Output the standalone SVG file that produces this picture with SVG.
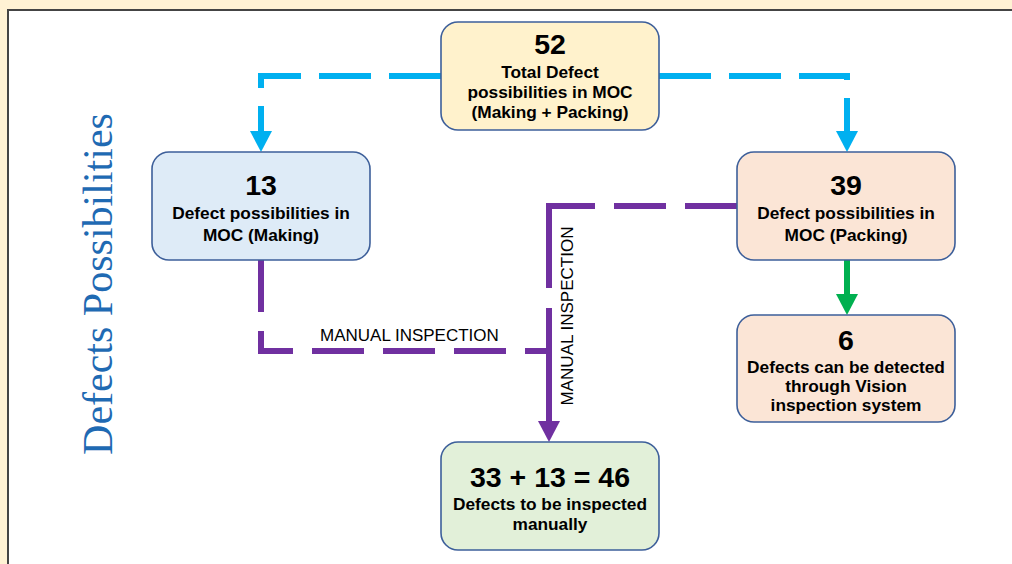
<svg xmlns="http://www.w3.org/2000/svg" width="1012" height="564" viewBox="0 0 1012 564">
<defs>
<style>
.node{stroke:#3D5F9A;stroke-width:1.6}
.num{font-family:"Liberation Sans",Arial,sans-serif;font-weight:bold;font-size:28.5px;fill:#000;text-anchor:middle}
.sub{font-family:"Liberation Sans",Arial,sans-serif;font-weight:bold;font-size:17.3px;fill:#000;text-anchor:middle}
.lbl{font-family:"Liberation Sans",Arial,sans-serif;font-size:17px;fill:#000}
.blue{fill:none;stroke:#00B0F0;stroke-width:6;stroke-dasharray:52 18}
.purple{fill:none;stroke:#7030A0;stroke-width:6;stroke-dasharray:52 19}
.green{fill:none;stroke:#00B050;stroke-width:6}
</style>
<marker id="ab" markerUnits="userSpaceOnUse" markerWidth="22" markerHeight="22" refX="0" refY="11" orient="auto"><path d="M0,0 L21,11 L0,22 z" fill="#00B0F0"/></marker>
<marker id="ap" markerUnits="userSpaceOnUse" markerWidth="22" markerHeight="22" refX="0" refY="11" orient="auto"><path d="M0,0 L21,11 L0,22 z" fill="#7030A0"/></marker>
<marker id="ag" markerUnits="userSpaceOnUse" markerWidth="22" markerHeight="22" refX="0" refY="11" orient="auto"><path d="M0,0 L21,11 L0,22 z" fill="#00B050"/></marker>
</defs>
<rect x="0" y="0" width="1012" height="564" fill="#FFF2D4"/>
<rect x="8" y="10" width="1012" height="560" fill="#FFFFFF" stroke="#444444" stroke-width="2"/>
<text transform="translate(112,284) rotate(-90)" text-anchor="middle" font-family="'Liberation Serif','Times New Roman',serif" font-size="42" fill="#1F6AB3">Defects Possibilities</text>
<g id="connectors">
<path class="blue" d="M441,76 H261 V131" marker-end="url(#ab)"/>
<path class="blue" d="M659,76 H847 V131" marker-end="url(#ab)"/>
<path class="purple" d="M261,260 V351 H549"/>
<path class="purple" d="M737,206 H549"/>
<path fill="none" stroke="#7030A0" stroke-width="6" stroke-dasharray="85 20 300" d="M549,203 V421" marker-end="url(#ap)"/>
<path class="green" d="M847,260 V294" marker-end="url(#ag)"/>
<text class="lbl" x="320" y="341">MANUAL INSPECTION</text>
<text class="lbl" transform="translate(573,316) rotate(-90)" text-anchor="middle">MANUAL INSPECTION</text>
</g>
<g id="n-total">
<rect class="node" x="441" y="22" width="218" height="108" rx="17" fill="#FFF2CC"/>
<text class="num" x="550" y="54">52</text>
<text class="sub" x="550" y="78">Total Defect</text>
<text class="sub" x="550" y="98">possibilities in MOC</text>
<text class="sub" x="550" y="118">(Making + Packing)</text>
</g>
<g id="n-making">
<rect class="node" x="152" y="152" width="218" height="108" rx="17" fill="#DEEBF7"/>
<text class="num" x="261" y="195">13</text>
<text class="sub" x="261" y="219">Defect possibilities in</text>
<text class="sub" x="261" y="241">MOC (Making)</text>
</g>
<g id="n-packing">
<rect class="node" x="737" y="152" width="218" height="108" rx="17" fill="#FBE5D6"/>
<text class="num" x="846" y="195">39</text>
<text class="sub" x="846" y="219">Defect possibilities in</text>
<text class="sub" x="846" y="241">MOC (Packing)</text>
</g>
<g id="n-vision">
<rect class="node" x="737" y="315" width="218" height="107" rx="17" fill="#FBE5D6"/>
<text class="num" x="846" y="350">6</text>
<text class="sub" x="846" y="373">Defects can be detected</text>
<text class="sub" x="846" y="392">through Vision</text>
<text class="sub" x="846" y="411">inspection system</text>
</g>
<g id="n-manual">
<rect class="node" x="441" y="442" width="218" height="108" rx="17" fill="#E2F0D9"/>
<text class="num" x="550" y="487">33 + 13 = 46</text>
<text class="sub" x="550" y="510">Defects to be inspected</text>
<text class="sub" x="550" y="530">manually</text>
</g>
</svg>
